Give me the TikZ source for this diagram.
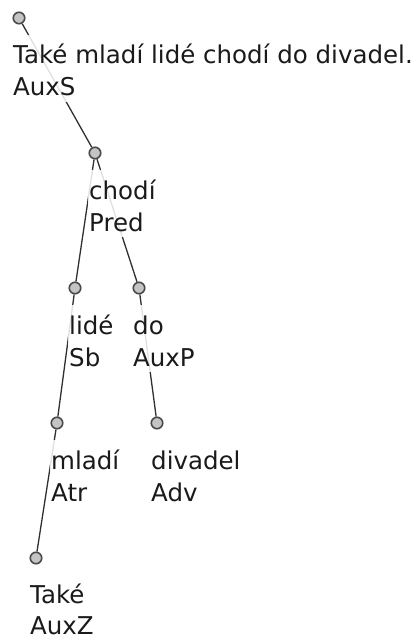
\documentclass[tikz,border=0pt]{standalone}
\usepackage{fontspec}
\setmainfont{DejaVu Sans}
\definecolor{txt}{HTML}{1A1A1A}
\definecolor{nodefill}{HTML}{C4C4C4}
\definecolor{nodeedge}{HTML}{4A4A4A}
\definecolor{edgecol}{HTML}{303030}
\begin{document}
\begin{tikzpicture}[x=1pt,y=-1pt,
  tnode/.style={circle,draw=nodeedge,fill=nodefill,line width=1.6pt,minimum size=11.5pt,inner sep=0pt},
  edge/.style={draw=edgecol,line width=1.3pt},
  lab/.style={anchor=base west,inner xsep=1pt,inner ysep=0pt,fill=white,fill opacity=0.85,text opacity=1,text=txt,font=\fontsize{24.5}{32}\selectfont,text height=29pt,text depth=3pt},
  labb/.style={lab,text depth=6pt}]
\useasboundingbox (0,0) rectangle (415,639);
% tree node positions
\coordinate (pRoot) at (19,18);
\coordinate (pChodi) at (95,153);
\coordinate (pLide) at (75,288);
\coordinate (pDo) at (139,288);
\coordinate (pMladi) at (57,423);
\coordinate (pDivadel) at (157,423);
\coordinate (pTake) at (36,558);
% invisible anchors for edges (circles redrawn on top later)
\node[tnode,draw=none,fill=none] (root) at (pRoot) {};
\node[tnode,draw=none,fill=none] (chodi) at (pChodi) {};
\node[tnode,draw=none,fill=none] (lide) at (pLide) {};
\node[tnode,draw=none,fill=none] (do) at (pDo) {};
\node[tnode,draw=none,fill=none] (mladi) at (pMladi) {};
\node[tnode,draw=none,fill=none] (divadel) at (pDivadel) {};
\node[tnode,draw=none,fill=none] (take) at (pTake) {};
% edges
\draw[edge] (root) -- (chodi);
\draw[edge] (chodi) -- (lide);
\draw[edge] (chodi) -- (do);
\draw[edge] (lide) -- (mladi);
\draw[edge] (do) -- (divadel);
\draw[edge] (mladi) -- (take);
% labels
\node[lab] (rootW) at ([xshift=-7pt,yshift=-46pt]pRoot) {Také mladí lidé chodí do divadel.};
\node[labb] (rootF) at ([xshift=-7pt,yshift=-78pt]pRoot) {AuxS};
\node[lab] (chodiW) at ([xshift=-7pt,yshift=-46pt]pChodi) {chodí};
\node[labb] (chodiF) at ([xshift=-7pt,yshift=-78pt]pChodi) {Pred};
\node[lab] (lideW) at ([xshift=-7pt,yshift=-46pt]pLide) {lidé};
\node[labb] (lideF) at ([xshift=-7pt,yshift=-78pt]pLide) {Sb};
\node[lab] (doW) at ([xshift=-7pt,yshift=-46pt]pDo) {do};
\node[labb] (doF) at ([xshift=-7pt,yshift=-78pt]pDo) {AuxP};
\node[lab] (mladiW) at ([xshift=-7pt,yshift=-46pt]pMladi) {mladí};
\node[labb] (mladiF) at ([xshift=-7pt,yshift=-78pt]pMladi) {Atr};
\node[lab] (divadelW) at ([xshift=-7pt,yshift=-46pt]pDivadel) {divadel};
\node[labb] (divadelF) at ([xshift=-7pt,yshift=-78pt]pDivadel) {Adv};
\node[lab] (takeW) at ([xshift=-7pt,yshift=-45pt]pTake) {Také};
\node[lab,text depth=1pt] (takeF) at ([xshift=-7pt,yshift=-76pt]pTake) {AuxZ};
% visible circles on top
\foreach \n in {root,chodi,lide,do,mladi,divadel,take}
  \node[tnode] (\n c) at (\n.center) {};
\end{tikzpicture}
\end{document}
